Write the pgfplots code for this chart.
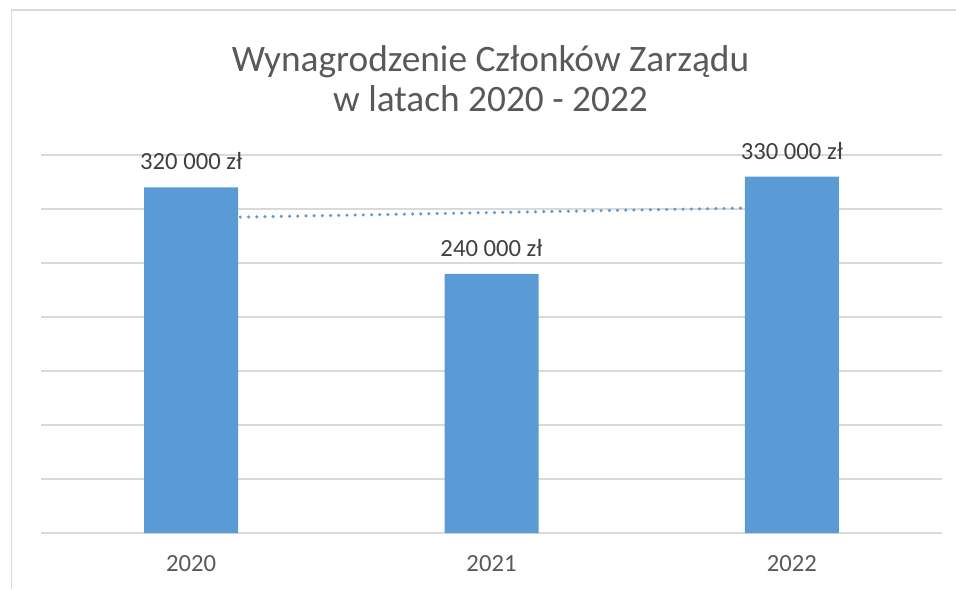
\documentclass[border=0pt]{standalone}
\usepackage{fontspec}
\setmainfont{Carlito}
\usepackage{pgfplots}
\pgfplotsset{compat=1.18}
\definecolor{barblue}{HTML}{5B9BD5}
\definecolor{gridgray}{HTML}{D9D9D9}
\definecolor{titlegray}{HTML}{595959}
\definecolor{labelgray}{HTML}{404040}
\begin{document}
\begin{tikzpicture}
\useasboundingbox (0,0) rectangle (717pt,441.75pt);
\draw[gridgray, line width=1.1pt] (8.625pt,0) -- (8.625pt,434.25pt) -- (720pt,434.25pt);
\node[align=center, text=titlegray, font=\fontsize{28}{30}\selectfont] at (367.9pt,382.5pt) {Wynagrodzenie Członków Zarządu\\w latach 2020 - 2022};
\begin{axis}[
 at={(30.75pt,42pt)}, anchor=south west,
 scale only axis, width=675.75pt, height=283.5pt,
 xmin=-0.5, xmax=2.5, ymin=0, ymax=350000,
 xtick={0,1,2}, xticklabels={2020,2021,2022},
 ytick={0,50000,...,350000}, yticklabels={},
 ymajorgrids, grid style={gridgray, line width=1.1pt},
 axis line style={draw=none},
 major tick length=0pt,
 xticklabel style={text=titlegray, font=\fontsize{18.5}{22}\selectfont, yshift=-13.5pt},
 scaled y ticks=false,
 clip=false,
]
\addplot[barblue, line width=2.6pt, dash pattern=on 0pt off 6.15pt, line cap=round] coordinates {(0,291667) (2,301667)};
\addplot[ybar, bar width=70.5pt, fill=barblue, draw=none,
 nodes near coords={\pgfmathprintnumber[assume math mode=true, fixed, precision=0, 1000 sep={\ }]{\pgfplotspointmeta}~zł},
 every node near coord/.append style={text=labelgray, font=\fontsize{18.5}{22}\selectfont, yshift=9.5pt}]
 coordinates {(0,320000) (1,240000) (2,330000)};
\end{axis}
\end{tikzpicture}
\end{document}
